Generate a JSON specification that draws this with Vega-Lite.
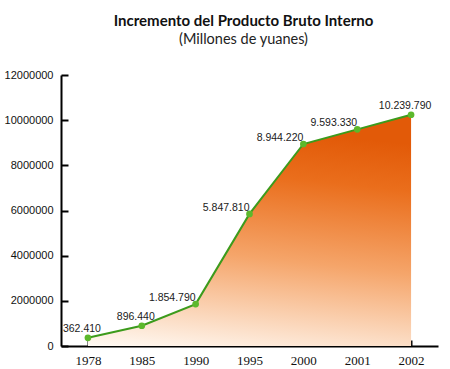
{
  "$schema": "https://vega.github.io/schema/vega-lite/v6.json",
  "width": 377,
  "height": 271,
  "autosize": "none",
  "padding": {"left": 61, "top": 75, "right": 12, "bottom": 23},
  "background": "white",
  "config": {"view": {"stroke": null}},
  "title": {
    "text": "Incremento del Producto Bruto Interno",
    "subtitle": "(Millones de yuanes)\u00a0\u00a0\u00a0\u00a0\u00a0\u00a0\u00a0",
    "anchor": "middle",
    "font": "Lato",
    "fontSize": 15,
    "fontWeight": "bold",
    "color": "#111111",
    "subtitleFont": "Lato",
    "subtitleFontSize": 14.5,
    "subtitleColor": "#222222",
    "subtitlePadding": 4,
    "offset": 23,
    "dx": -6
  },
  "data": {
    "values": [
      {"year": "1978", "pib": 362410, "label": "362.410"},
      {"year": "1985", "pib": 896440, "label": "896.440"},
      {"year": "1990", "pib": 1854790, "label": "1.854.790"},
      {"year": "1995", "pib": 5847810, "label": "5.847.810"},
      {"year": "2000", "pib": 8944220, "label": "8.944.220"},
      {"year": "2001", "pib": 9593330, "label": "9.593.330"},
      {"year": "2002", "pib": 10239790, "label": "10.239.790"}
    ]
  },
  "encoding": {
    "x": {
      "field": "year",
      "type": "ordinal",
      "sort": null,
      "scale": {"type": "point", "padding": 0.5},
      "axis": {
        "title": null,
        "labelAngle": 0,
        "domainColor": "#000000",
        "domainWidth": 2,
        "tickColor": "#000000",
        "tickWidth": 2,
        "tickSize": -6,
        "labelPadding": 14,
        "labelFont": "Liberation Serif",
        "labelFontSize": 13,
        "labelColor": "#111111",
        "grid": false
      }
    },
    "y": {
      "field": "pib",
      "type": "quantitative",
      "scale": {"domain": [0, 12000000], "nice": false},
      "axis": {
        "title": null,
        "values": [0, 2000000, 4000000, 6000000, 8000000, 10000000, 12000000],
        "format": "d",
        "domainColor": "#000000",
        "domainWidth": 2,
        "tickColor": "#000000",
        "tickWidth": 2,
        "tickSize": -7,
        "labelPadding": 15,
        "labelFont": "Liberation Sans",
        "labelFontSize": 11,
        "labelColor": "#111111",
        "grid": false
      }
    }
  },
  "layer": [
    {
      "mark": {
        "type": "area",
        "color": {
          "gradient": "linear",
          "x1": 0, "y1": 1, "x2": 0.15, "y2": 0,
          "stops": [
            {"offset": 0, "color": "#fffaf4"},
            {"offset": 0.45, "color": "#f5a56a"},
            {"offset": 0.8, "color": "#ea6e1c"},
            {"offset": 1, "color": "#e25a08"}
          ]
        }
      }
    },
    {
      "mark": {"type": "line", "color": "#3c9b1c", "strokeWidth": 2}
    },
    {
      "mark": {"type": "point", "filled": true, "color": "#5cb82c", "size": 45, "opacity": 1}
    },
    {
      "transform": [{"filter": {"field": "year", "oneOf": ["1978", "1985", "2002"]}}],
      "mark": {"type": "text", "align": "center", "baseline": "alphabetic", "dx": -6, "dy": -6, "font": "Liberation Sans", "fontSize": 10.5, "color": "#1a1a1a"},
      "encoding": {"text": {"field": "label"}}
    },
    {
      "transform": [{"filter": {"field": "year", "oneOf": ["1990", "1995", "2000", "2001"]}}],
      "mark": {"type": "text", "align": "right", "baseline": "alphabetic", "dx": 0, "dy": -3, "font": "Liberation Sans", "fontSize": 10.5, "color": "#1a1a1a"},
      "encoding": {"text": {"field": "label"}}
    }
  ]
}
